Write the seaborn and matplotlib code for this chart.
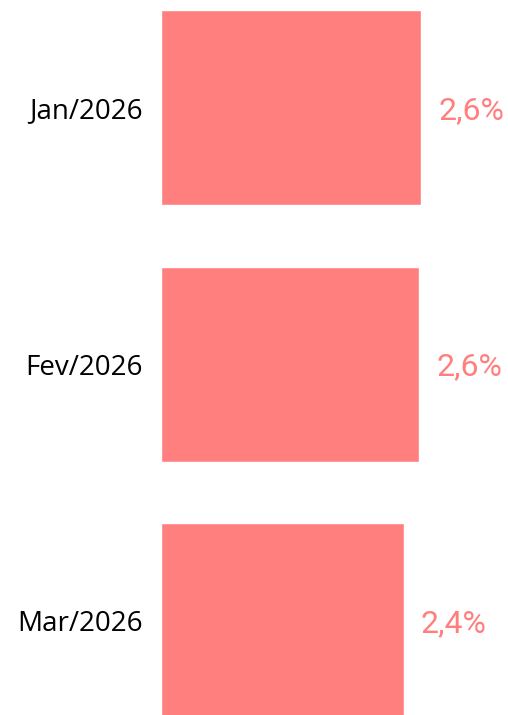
import matplotlib
matplotlib.use("Agg")
import matplotlib.pyplot as plt
import seaborn as sns
import pandas as pd

months = ["Jan/2026", "Fev/2026", "Mar/2026"]
values = [2.60, 2.58, 2.43]

df = pd.DataFrame({"mes": months, "valor": values})

sns.set_theme(style="white")
plt.rcParams["font.family"] = ["Open Sans", "DejaVu Sans"]

fig = plt.figure(figsize=(5.08, 7.15), dpi=100)
ax = fig.add_axes([161 / 508, 0, 347 / 508, 1])

bar_color = "#FF7F7F"
sns.barplot(data=df, y="mes", x="valor", orient="h", color=bar_color,
            width=0.76, saturation=1, ax=ax)

ax.set_xlim(0, 3.47)
ax.set_ylim(2.368, -0.419)

for i, v in enumerate(values):
    ax.annotate(f"{v:.1f}%".replace(".", ","), xy=(v, i), xytext=(17, -3),
                textcoords="offset pixels", va="center", ha="left",
                fontsize=23, fontweight="normal", color=bar_color,
                family=["Roboto", "DejaVu Sans"])

ax.set_xlabel("")
ax.set_ylabel("")
ax.set_xticks([])
ax.tick_params(axis="y", length=0, pad=13, labelsize=20, labelcolor="#000000")
for lbl in ax.get_yticklabels():
    lbl.set_va("center_baseline")
    lbl.set_y(lbl.get_position()[1])
for s in ax.spines.values():
    s.set_visible(False)

fig.savefig("out.png", dpi=100)
